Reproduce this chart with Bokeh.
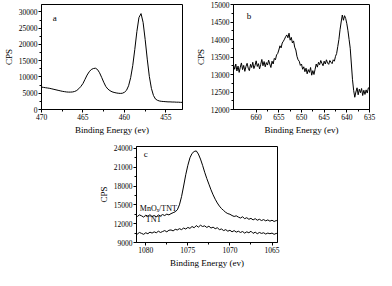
import numpy as np
from bokeh.plotting import figure
from bokeh.models import Range1d, FixedTicker, Label, Spacer
from bokeh.layouts import column, row
from bokeh.embed import file_html
from bokeh.resources import INLINE

FONT = "Liberation Serif"

# ---------------- panel a : Ti 2p ----------------
a_energy = np.arange(470.0, 452.99, -0.25)
a_cps = [6900, 6800, 6700, 6600, 6500, 6350, 6200, 6050, 5900, 5750, 5600, 5500, 5400,
         5350, 5350, 5400, 5550, 5850, 6400, 7100, 8000, 9300, 10600, 11600, 12300, 12600, 12700, 12300, 11300,
         9900, 8400, 7100, 6300, 5800, 5450, 5250, 5100, 5000, 4950, 5000, 5300, 5900, 7300, 9800, 13500,
         18500, 24000, 28300, 29500, 26800, 21500, 15500, 10200, 6500, 4300, 3200, 2800, 2600, 2500, 2450, 2400,
         2350, 2350, 2300, 2300, 2250, 2250, 2200, 2200]
a_xticks = [470, 465, 460, 455]
a_yticks = [0, 5000, 10000, 15000, 20000, 25000, 30000]

# ---------------- panel b : Mn 2p ----------------
b_energy = np.arange(665.0, 634.99, -0.25)
b_cps = [13280, 13150, 13300, 13100,
         13240, 13060, 13210, 13330,
         13140, 13260, 13090, 13230,
         13320, 13180, 13110, 13290,
         13200, 13350, 13170, 13260,
         13390, 13230, 13310, 13160,
         13290, 13430, 13250, 13370,
         13220, 13340, 13270, 13410,
         13300, 13200, 13380, 13300,
         13460, 13420, 13560, 13600,
         13700, 13820, 13760, 13900,
         13950, 14010, 14080, 14130,
         14050, 14180, 13980, 14060,
         13900, 13960, 13780, 13700,
         13520, 13420, 13380, 13260,
         13300, 13150, 13220, 13080,
         13180, 13020, 13140, 13060,
         13200, 12980, 13110, 13000,
         13150, 13300, 13210, 13350,
         13280, 13400, 13320, 13250,
         13380, 13300, 13420, 13330,
         13290, 13400, 13350, 13310,
         13420, 13380, 13520, 13600,
         13800, 14000, 14280, 14500,
         14700, 14550, 14680, 14600,
         14450, 14250, 14000, 13750,
         13300, 12850, 12550, 12350,
         12500, 12620, 12420, 12580,
         12480, 12600, 12400, 12550,
         12430, 12560, 12470, 12620,
         12600]
b_xticks = [660, 655, 650, 645, 640, 635]
b_yticks = [12000, 12500, 13000, 13500, 14000, 14500, 15000]

# ---------------- panel c : Na 1s ----------------
c_energy = np.arange(1081.25, 1064.24, -0.25)
c_mnox = [13300,
          13150, 13400, 13250, 13050,
          13350, 13200, 13420, 13150,
          13300, 13100, 13380, 13250,
          13450, 13300, 13520, 13400,
          13600, 13750, 13900, 14200,
          15000, 16300, 18000, 19800,
          21300, 22500, 23200, 23500,
          23600, 23100, 22300, 21300,
          20200, 19200, 18300, 17400,
          16600, 15900, 15300, 14800,
          14400, 14100, 13800, 13600,
          13500, 13300, 13150, 13250,
          13050, 12900, 13100, 12800,
          12950, 12700, 12850, 12600,
          12800, 12550, 12700, 12500,
          12650, 12450, 12600, 12400,
          12550, 12350, 12500, 12400]
c_tnt = [10500,
         10350, 10600, 10450, 10300,
         10550, 10400, 10650, 10500,
         10700, 10550, 10800, 10600,
         10750, 10900, 10700, 10950,
         11000, 10850, 11100, 11000,
         11200, 11050, 11300, 11150,
         11400, 11250, 11550, 11350,
         11700, 11450, 11750, 11550,
         11650, 11400, 11600, 11300,
         11450, 11200, 11350, 11050,
         11150, 10900, 11050, 10800,
         10950, 10700, 10900, 10650,
         10800, 10600, 10750, 10500,
         10700, 10550, 10800, 10450,
         10650, 10400, 10600, 10450,
         10550, 10350, 10500, 10400,
         10500, 10300, 10450, 10350]
c_xticks = [1080, 1075, 1070, 1065]
c_yticks = [9000, 12000, 15000, 18000, 21000, 24000]
c_series_names = ["MnO\u2093/TNT", "TNT"]


def midpoints(t):
    t = sorted(t)
    return [(t[i] + t[i + 1]) / 2 for i in range(len(t) - 1)]


def make_fig(w, h, xr, yr, bl, br, bt, bb, xt, yt):
    p = figure(width=w, height=h, x_range=Range1d(*xr), y_range=Range1d(*yr),
               output_backend="svg", toolbar_location=None,
               min_border_left=bl, min_border_right=br,
               min_border_top=bt, min_border_bottom=bb)
    p.xgrid.visible = False
    p.ygrid.visible = False
    p.outline_line_color = "black"
    p.outline_line_alpha = 1
    p.outline_line_width = 1
    p.background_fill_color = "white"
    p.border_fill_color = "white"
    p.xaxis.ticker = FixedTicker(ticks=xt, minor_ticks=midpoints(xt))
    p.yaxis.ticker = FixedTicker(ticks=yt, minor_ticks=midpoints(yt))
    for ax in (p.xaxis, p.yaxis):
        ax.axis_line_color = "black"
        ax.major_tick_line_color = "black"
        ax.minor_tick_line_color = "black"
        ax.major_tick_in = 0
        ax.major_tick_out = 3
        ax.minor_tick_in = 0
        ax.minor_tick_out = 2
        ax.major_label_text_font = FONT
        ax.major_label_text_font_size = "7.5px"
        ax.major_label_text_color = "black"
        ax.major_label_standoff = 1
        ax.axis_label_text_font = FONT
        ax.axis_label_text_font_size = "9px"
        ax.axis_label_text_font_style = "normal"
        ax.axis_label_text_color = "black"
        ax.axis_label_standoff = 2
    p.xaxis.axis_label = "Binding Energy (ev)"
    p.yaxis.axis_label = "CPS"
    return p


def add_label(p, x, y, text, size="9px", align="center"):
    p.add_layout(Label(x=x, y=y, text=text, text_font=FONT, text_font_size=size,
                       text_align=align, text_baseline="middle", text_color="black"))


pa = make_fig(192, 137, (470, 453), (0, 32300), 35, 10, 3, 28, a_xticks, a_yticks)
pa.line(a_energy, a_cps, line_color="black", line_width=1)
add_label(pa, 468.4, 28300, "a")

pb = make_fig(184, 137, (665, 635), (12000, 15000), 33, 7, 4, 28, b_xticks, b_yticks)
pb.line(b_energy, b_cps, line_color="black", line_width=1)
add_label(pb, 661.6, 14675, "b")

pc = make_fig(190, 133, (1081.1, 1064.35), (9000, 24300), 35, 8, 9, 25, c_xticks, c_yticks)
pc.line(c_energy, c_mnox, line_color="black", line_width=1)
pc.line(c_energy, c_tnt, line_color="black", line_width=1)
add_label(pc, 1080.0, 23170, "c")
add_label(pc, 1080.7, 14470, c_series_names[0], size="8px", align="left")
add_label(pc, 1080.0, 12650, c_series_names[1], size="8px", align="left")

layout = column(row(pa, pb), row(Spacer(width=95, height=133), pc))

open("out.html", "w").write(file_html(layout, INLINE))
